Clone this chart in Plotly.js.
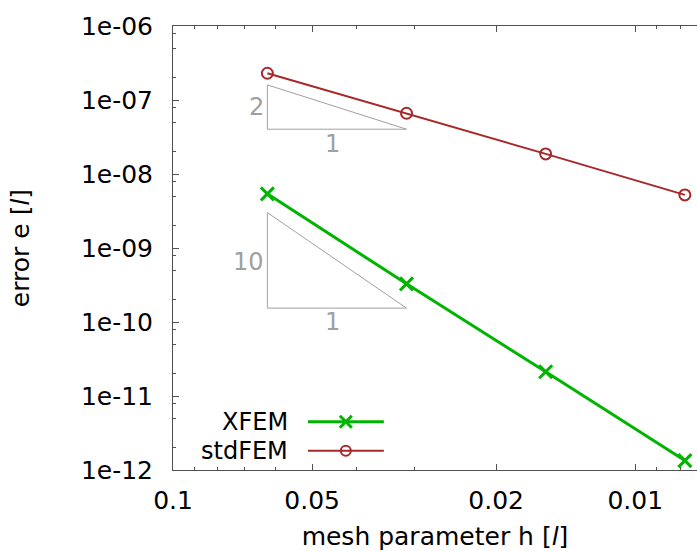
<!DOCTYPE html>
<html>
<head>
<meta charset="utf-8">
<script src="https://cdn.plot.ly/plotly-3.0.1.min.js"></script>
<style>html,body{margin:0;padding:0;background:#fff;}#chart{width:697px;height:551px;}</style>
</head>
<body>
<div id="chart"></div>
<script>
// mesh parameter h
const meshH = [1/16, 1/32, 1/64, 1/128];
// errors
const errXFEM = [5.39e-9, 3.28e-10, 2.13e-11, 1.34e-12];
const errStdFEM = [2.30e-7, 6.62e-8, 1.87e-8, 5.22e-9];
// slope triangles (guides)
const triX = [1/16, 1/16, 1/32, 1/16];
const triUpperY = [1.60e-7, 4.03e-8, 4.03e-8, 1.60e-7];
const triLowerY = [3.01e-9, 1.54e-10, 1.54e-10, 3.01e-9];
const triUpperLabels = ["2", "1"];
const triLowerLabels = ["10", "1"];
// tick labels
const xTickVals = [0.1, 0.05, 0.02, 0.01];
const xTickText = ["0.1", "0.05", "0.02", "0.01"];
const xMinorVals = [0.09, 0.08, 0.07, 0.06, 0.04, 0.03, 0.009, 0.008];
const yTickVals = [1e-6, 1e-7, 1e-8, 1e-9, 1e-10, 1e-11, 1e-12];
const yTickText = ["1e-06", "1e-07", "1e-08", "1e-09", "1e-10", "1e-11", "1e-12"];
const yMinorVals = [];
for (let k = -12; k < -6; k++) { [2, 5, 8].forEach(m => yMinorVals.push(m * Math.pow(10, k))); }
const seriesNames = ["XFEM", "stdFEM"];

const GREEN = "#00b400";
const RED = "#a8282a";
const GRAY = "#a0a0a0";
const AXIS = "#505050";
const FONT = "DejaVu Sans, sans-serif";

const traces = [
  {x: triX, y: triUpperY, mode: "lines", line: {color: GRAY, width: 1}, hoverinfo: "skip", showlegend: false},
  {x: triX, y: triLowerY, mode: "lines", line: {color: GRAY, width: 1}, hoverinfo: "skip", showlegend: false},
  {x: meshH, y: errStdFEM, name: seriesNames[1], mode: "lines+markers",
   line: {color: RED, width: 2}, marker: {symbol: "circle-open", size: 11, color: RED, line: {width: 2, color: RED}}},
  {x: meshH, y: errXFEM, name: seriesNames[0], mode: "lines+markers",
   line: {color: GREEN, width: 3}, marker: {symbol: "x-thin-open", size: 13, color: GREEN, line: {width: 3, color: GREEN}}}
];

const lg = Math.log10;
const midLog = (a, b) => (lg(a) + lg(b)) / 2;
const annotations = [
  {x: lg(triX[0]), y: midLog(triUpperY[0], triUpperY[1]), text: triUpperLabels[0], xanchor: "right", yanchor: "middle", xshift: -1, showarrow: false, font: {family: FONT, size: 24, color: GRAY}},
  {x: midLog(triX[1], triX[2]), y: lg(triUpperY[1]), text: triUpperLabels[1], xanchor: "center", yanchor: "top", xshift: -4, yshift: 1, showarrow: false, font: {family: FONT, size: 24, color: GRAY}},
  {x: lg(triX[0]), y: midLog(triLowerY[0], triLowerY[1]), text: triLowerLabels[0], xanchor: "right", yanchor: "middle", xshift: -1, yshift: -2, showarrow: false, font: {family: FONT, size: 24, color: GRAY}},
  {x: midLog(triX[1], triX[2]), y: lg(triLowerY[1]), text: triLowerLabels[1], xanchor: "center", yanchor: "top", xshift: -4, yshift: 2, showarrow: false, font: {family: FONT, size: 24, color: GRAY}},
  // legend labels
  {xref: "paper", yref: "paper", x: 0.2228, y: 0.1087, text: seriesNames[0], xanchor: "right", yanchor: "middle", showarrow: false, font: {family: FONT, size: 24, color: "#000"}},
  {xref: "paper", yref: "paper", x: 0.2228, y: 0.0434, text: seriesNames[1], xanchor: "right", yanchor: "middle", showarrow: false, font: {family: FONT, size: 24, color: "#000"}}
];

// legend samples (layout decoration in paper coordinates)
const lgX0 = 0.2575, lgX1 = 0.4024, lgXm = 0.3298, lgY1 = 0.1087, lgY2 = 0.0434;
const shapes = [
  {type: "line", xref: "paper", yref: "paper", x0: lgX0, x1: lgX1, y0: lgY1, y1: lgY1, line: {color: GREEN, width: 3}},
  {type: "line", xref: "paper", yref: "paper", xsizemode: "pixel", ysizemode: "pixel", xanchor: lgXm, yanchor: lgY1, x0: -6, x1: 6, y0: -6, y1: 6, line: {color: GREEN, width: 3}},
  {type: "line", xref: "paper", yref: "paper", xsizemode: "pixel", ysizemode: "pixel", xanchor: lgXm, yanchor: lgY1, x0: -6, x1: 6, y0: 6, y1: -6, line: {color: GREEN, width: 3}},
  {type: "line", xref: "paper", yref: "paper", x0: lgX0, x1: lgX1, y0: lgY2, y1: lgY2, line: {color: RED, width: 2}},
  {type: "circle", xref: "paper", yref: "paper", xsizemode: "pixel", ysizemode: "pixel", xanchor: lgXm, yanchor: lgY2, x0: -5, x1: 5, y0: -5, y1: 5, line: {color: RED, width: 2}, fillcolor: "rgba(0,0,0,0)"}
];

const layout = {
  width: 697, height: 551,
  margin: {l: 173, r: 0, t: 26, b: 81},
  paper_bgcolor: "#fff", plot_bgcolor: "#fff",
  font: {family: FONT, size: 25, color: "#000"},
  showlegend: false,
  xaxis: {
    type: "log", range: [-1, -2.1335],
    tickmode: "array", tickvals: xTickVals, ticktext: xTickText,
    ticks: "inside", ticklen: 6, tickwidth: 1, tickcolor: AXIS,
    minor: {tickmode: "array", tickvals: xMinorVals, ticks: "inside", ticklen: 3, tickcolor: AXIS, showgrid: false},
    showline: true, linecolor: AXIS, linewidth: 1, mirror: "allticks",
    showgrid: false, zeroline: false,
    tickfont: {family: FONT, size: 25, color: "#000"},
    ticklabelstandoff: 8,
    title: {text: "mesh parameter h [<i>l</i>]", font: {family: FONT, size: 25, color: "#000"}, standoff: 18}
  },
  yaxis: {
    type: "log", range: [-12, -6],
    tickmode: "array", tickvals: yTickVals, ticktext: yTickText,
    ticks: "inside", ticklen: 6, tickwidth: 1, tickcolor: AXIS,
    minor: {tickmode: "array", tickvals: yMinorVals, ticks: "inside", ticklen: 3, tickcolor: AXIS, showgrid: false},
    showline: true, linecolor: AXIS, linewidth: 1, mirror: false,
    showgrid: false, zeroline: false,
    tickfont: {family: FONT, size: 25, color: "#000"},
    ticklabelstandoff: 14,
    title: {text: "error e [<i>l</i>]", font: {family: FONT, size: 25, color: "#000"}, standoff: 44}
  },
  annotations: annotations,
  shapes: shapes
};

Plotly.newPlot("chart", traces, layout, {staticPlot: true, displayModeBar: false});
</script>
</body>
</html>
